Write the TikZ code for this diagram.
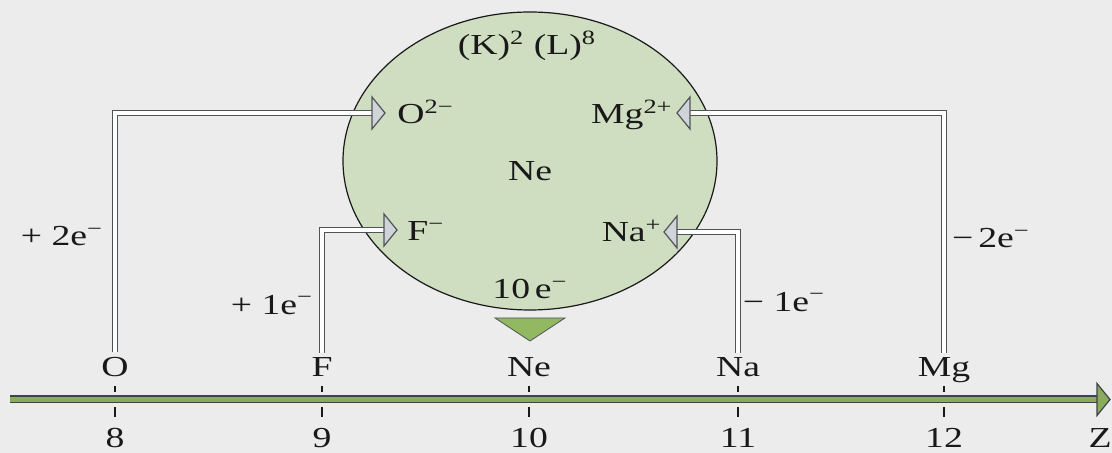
\documentclass[tikz,border=0pt]{standalone}
\usepackage{fontspec}
\setmainfont{Liberation Serif}[FakeStretch=1.3]
\definecolor{paper}{RGB}{236,236,236}
\definecolor{shellgreen}{RGB}{207,222,193}
\definecolor{bargreen}{RGB}{138,170,92}
\definecolor{pointgreen}{RGB}{146,184,98}
\definecolor{shaftgray}{RGB}{80,83,87}
\definecolor{headgray}{RGB}{208,212,216}
\definecolor{ink}{RGB}{25,25,25}
\tikzset{
    txt/.style={inner sep=0pt, text=ink, font=\fontsize{14.5}{17}\selectfont},
    elem/.style={text depth=0pt},
    shell/.style={draw=ink, line width=0.6pt, fill=shellgreen},
    pointer/.style={draw=shaftgray, line width=0.4pt, fill=pointgreen},
    ion shaft/.style={
        draw=shaftgray, line width=0.7pt,
        double=white, double distance=1.8pt,
        shorten <=2.5pt, shorten >=5pt
    },
    ion head/.style={draw=shaftgray, line width=0.6pt, fill=headgray},
    z axis/.style={
        draw=shaftgray!80!black, line width=0.7pt,
        double=bargreen, double distance=2.6pt,
        shorten >=5pt
    },
    z head/.style={draw=shaftgray!80!black, line width=0.6pt, fill=bargreen},
    tickmark/.style={
        draw=ink, line width=0.6pt,
        shorten <=4.5pt, shorten >=5pt,
        dash pattern=on 3pt off 7.5pt on 5pt off 5pt
    }
}
\newcommand{\ionhead}[3][ion head]{\draw[#1] (#2) -- ++({-13*(#3)},-16) -- ++(0,32) -- cycle;}

\begin{document}
\begin{tikzpicture}[x=0.5pt, y=-0.5pt]
    \useasboundingbox (0,0) rectangle (1112,453);
    \fill[paper] (0,0) rectangle (1112,453);
    % neon shell
    \draw[shell] (530,161) ellipse [x radius=93.5pt, y radius=74.5pt];
    \node[txt, anchor=base] (config) at (527,55) {(K)\textsuperscript{2} (L)\textsuperscript{8}};
    \node[txt, anchor=base] (neon) at (530,181) {Ne};
    \node[txt, anchor=base] (tenel) at (530,299) {10\,e\textsuperscript{−}};
    \draw[pointer] (495,318) -- (565,318) -- (530,341) -- cycle;
    % ions
    \node[txt, anchor=base west] (O2) at (397,124) {O\textsuperscript{2−}};
    \node[txt, anchor=base east] (Mg2) at (673,124) {Mg\textsuperscript{2+}};
    \node[txt, anchor=base west] (F1) at (407,241) {F\textsuperscript{−}};
    \node[txt, anchor=base east] (Na1) at (662,242) {Na\textsuperscript{+}};
    \coordinate (O2tip) at ([xshift=-6pt, yshift=5.5pt]O2.base west);
    \coordinate (Mg2tip) at ([xshift=2pt, yshift=5.5pt]Mg2.base east);
    \coordinate (F1tip) at ([xshift=-5pt, yshift=5.5pt]F1.base west);
    \coordinate (Na1tip) at ([xshift=1pt, yshift=5pt]Na1.base east);
    % elements along Z
    \foreach \z/\el/\x in {8/O/115, 9/F/322, 10/Ne/529, 11/Na/738, 12/Mg/944} {
        \node[txt, elem, anchor=base] (el\z) at (\x,377) {\el};
        \node[txt, anchor=base] (z\z) at (\x,447) {\z};
        \draw[tickmark] (el\z.south) -- (z\z.north);
    }
    \node[txt, anchor=base] (zlab) at (1100,447) {Z};
    \coordinate (zstart) at (10,399.5);
    \coordinate (ztip) at (1110,399.5);
    \draw[z axis] (zstart) -- (ztip);
    \ionhead[z head]{ztip}{1}
    % electron transfers
    \draw[ion shaft] (el8.north) |- (O2tip);
    \draw[ion shaft] (el9.north) |- (F1tip);
    \draw[ion shaft] (el11.north) |- (Na1tip);
    \draw[ion shaft] (el12.north) |- (Mg2tip);
    \ionhead{O2tip}{1}
    \ionhead{F1tip}{1}
    \ionhead{Na1tip}{-1}
    \ionhead{Mg2tip}{-1}
    \node[txt] (gainO) at (62,236) {+ 2e\textsuperscript{−}};
    \node[txt] (gainF) at (272,305) {+ 1e\textsuperscript{−}};
    \node[txt] (lossNa) at (784,302) {− 1e\textsuperscript{−}};
    \node[txt] (lossMg) at (991,238) {−\,2e\textsuperscript{−}};
\end{tikzpicture}
\end{document}
